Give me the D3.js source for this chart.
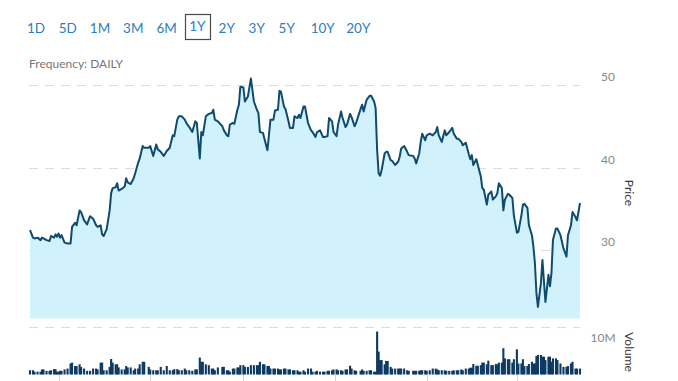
<!DOCTYPE html>
<html><head><meta charset="utf-8">
<script src="https://cdn.jsdelivr.net/npm/d3@7"></script>
<style>html,body{margin:0;padding:0;background:#fff;}svg{display:block;font-family:Lato,"Open Sans",sans-serif;}</style>
</head><body><svg id="c" width="678" height="381"></svg>
<script>
const rangeButtons = ["1D","5D","1M","3M","6M","1Y","2Y","3Y","5Y","10Y","20Y"];
const activeRange = "1Y";
const frequencyLabel = "Frequency: DAILY";
const startDate = "2019-04-12";
const endDayOffset = 366;
// calendar-day offsets from startDate
const dayOffsets = [
0,2,3,5,7,8,9,11,13,14, 16,17,18,19,20,21,23,25,27,28,
30,31,33,34,36,38,40,42,44,45, 47,48,49,51,53,54,55,57,58,59,
61,63,64,65,67,69,70,72,73,75, 76,79,80,82,84,85,87,89,91,93,
95,96,98,99,101,103,104,106,108,110, 111,113,114,115,117,119,121,122,123,125,
128,129,131,132,133,135,136,138,139,140, 142,143,145,147,149,151,152,153,155,156,
158,159,160,162,163,165,166,167,169,170, 172,173,175,176,178,179,180,182,183,185,
187,188,190,191,193,195,196,198,199,201, 202,204,205,207,208,210,211,213,214,216,
217,220,221,222,224,226,227,229,230,231, 232,233,234,236,237,238,240,241,243,245,
246,247,249,251,252,255,256,257,259,260, 261,263,264,266,268,270,271,272,274,276,
277,279,281,282,284,285,287,288,290,292, 293,294,295,297,298,300,301,302,304,305,
307,308,310,311,312,314,315,316,318,319, 321,322,324,325,327,328,329,331,332,334,
335,336,337,338,340,341,342,343,345,346, 347,348,350,351,353,355,357,358,360,361,
363,364,366];
const prices = [
32.4,31.5,31.4,31.5,31.2,31.5,31.4,31.2,31.1,31.7, 31.5,31.9,31.6,32.0,31.5,31.8,30.9,30.8,30.8,32.8,
33.3,33.0,34.8,34.6,33.6,33.1,34.1,33.8,33.0,32.8, 33.0,31.9,31.7,32.5,34.8,36.9,37.5,37.6,38.1,37.2,
37.4,37.7,38.7,38.2,38.0,38.7,39.3,40.6,41.1,42.6, 42.4,42.4,42.6,41.4,42.8,42.2,41.9,41.4,42.0,42.4,
43.9,43.8,45.8,46.2,46.2,45.8,45.4,44.9,44.3,45.6, 45.4,41.1,44.3,43.9,46.2,46.5,46.6,47.0,45.8,45.6,
45.0,44.5,43.9,43.8,45.2,45.4,45.3,47.0,47.6,49.8, 49.7,48.0,48.6,50.8,48.0,47.0,46.6,44.3,44.2,43.5,
42.1,43.9,45.8,45.8,46.9,47.0,49.3,49.2,47.4,47.1, 45.6,44.8,44.8,46.2,46.0,46.4,46.0,47.4,47.4,45.4,
44.5,44.3,43.7,44.3,44.5,43.7,43.7,43.8,46.0,45.6, 44.3,43.8,45.2,46.8,46.0,44.9,45.2,46.5,46.1,45.0,
45.4,47.1,47.6,46.8,48.2,48.7,48.7,48.0,47.2,42.1, 39.3,39.0,39.7,41.7,41.9,41.9,40.9,40.8,40.3,40.7,
41.3,42.3,42.6,41.9,41.5,41.4,41.1,40.5,41.7,43.1, 44.1,43.3,43.9,44.1,43.9,44.3,44.9,43.9,43.1,44.5,
43.9,44.3,44.8,44.1,43.5,43.5,43.1,42.7,43.0,41.6, 41.0,41.5,40.3,41.0,40.3,38.9,37.5,37.3,35.5,36.7,
37.1,36.1,36.5,36.9,38.1,37.5,34.8,36.1,36.8,36.7, 36.3,34.2,32.1,32.2,34.2,35.5,35.6,35.1,33.0,31.8,
30.4,28.4,24.8,23.1,26.0,28.8,26.2,23.7,27.0,25.6, 27.2,31.2,32.6,32.6,31.8,30.2,29.2,31.8,33.0,34.6,
34.0,33.6,35.7];
// volume, millions of shares
const volumes = [
1.5,1.5,1.0,1.0,1.0,1.8,1.8,1.3,1.3,1.5, 1.9,1.9,1.0,1.0,1.3,1.3,1.8,2.1,3.9,4.2,
3.0,3.0,3.6,2.7,2.1,1.3,1.3,2.1,2.1,1.8, 4.2,4.2,1.5,1.5,2.7,5.5,4.2,3.6,3.6,2.5,
1.8,1.8,3.0,2.5,2.5,1.5,2.1,2.1,3.6,4.5, 4.5,2.7,1.8,1.5,1.5,1.5,2.7,1.5,3.0,1.5,
1.5,1.9,1.9,1.5,1.5,2.1,1.5,1.5,1.3,1.8, 1.8,6.0,4.5,4.5,3.6,3.3,2.1,2.1,1.5,2.5,
2.7,2.7,1.5,1.5,1.0,2.1,2.1,2.5,2.5,3.3, 3.3,2.7,2.7,3.3,3.3,3.3,3.3,4.5,3.6,3.6,
3.0,3.0,2.1,2.1,2.1,2.1,1.8,1.8,2.1,2.1, 1.8,1.8,1.5,1.5,1.5,1.0,1.0,1.5,1.0,2.1,
2.1,1.0,1.0,1.3,1.0,1.0,1.0,1.3,1.3,1.5, 1.8,1.8,1.5,1.5,1.3,1.8,1.8,3.1,2.1,1.5,
1.3,1.3,1.8,1.3,1.3,1.5,1.5,1.0,1.0,15.2, 8.1,5.1,5.1,3.6,4.8,4.8,2.7,2.1,2.1,2.1,
2.1,2.1,2.1,1.5,1.3,1.3,1.3,1.3,1.3,1.5, 1.5,1.5,1.3,1.5,2.1,2.1,1.8,1.5,1.5,1.5,
1.3,1.3,1.3,1.5,1.5,1.5,1.8,1.5,2.1,2.1, 2.4,2.4,3.7,3.1,3.1,3.3,4.2,4.2,3.6,4.9,
3.3,3.3,3.7,3.6,4.2,4.2,9.3,5.7,5.4,5.4, 4.2,5.4,8.9,3.9,3.9,5.4,3.0,3.0,3.7,4.5,
3.9,3.9,6.5,6.9,6.9,6.3,6.3,5.1,6.3,6.3, 4.5,5.7,5.7,5.1,3.9,2.7,2.7,3.0,3.9,4.5,
2.1,2.1,2.1];
const priceTicks = [30, 40, 50];
const priceMin = 21.7, priceMax = 50;
const volumeTicks = [10];
const volumeMax = 16.8;

const svg = d3.select("#c");
const t0 = d3.utcParse("%Y-%m-%d")(startDate);
const dates = dayOffsets.map(d => d3.utcDay.offset(t0, d));
const data = dates.map((d, i) => ({date: d, price: prices[i], vol: volumes[i]}));

const x = d3.scaleUtc().domain([t0, d3.utcDay.offset(t0, endDayOffset)]).range([30, 580]);
const y = d3.scaleLinear().domain([priceMin, priceMax]).range([318.5, 85]);
const yv = d3.scaleLinear().domain([0, volumeMax]).range([374.5, 327]);

// range buttons
const btnX = [36, 67.7, 100, 133.3, 166.7, 197.3, 226.7, 256.7, 286.7, 322.7, 358.3];
rangeButtons.forEach((b, i) => {
  const active = b === activeRange;
  if (active) svg.append("rect").attr("x", 185.5).attr("y", 14.5).attr("width", 25).attr("height", 25)
    .attr("fill", "none").attr("stroke", "#4a4a4a").attr("stroke-width", 1.2);
  svg.append("text").attr("x", btnX[i]).attr("y", active ? 30.7 : 33.3)
    .attr("text-anchor", "middle").attr("font-size", 13.5).attr("fill", "#2a80c6").text(b);
});
svg.append("text").attr("x", 29).attr("y", 67.5).attr("font-size", 12).attr("fill", "#777").text(frequencyLabel);

// price gridlines
const grid = svg.append("g");
priceTicks.forEach(t => {
  grid.append("line").attr("x1", 29).attr("x2", 580).attr("y1", Math.round(y(t)) + 0.5).attr("y2", Math.round(y(t)) + 0.5)
    .attr("stroke", "#dcdcdc").attr("stroke-dasharray", "9,7");
  svg.append("text").attr("x", 608).attr("y", y(t) - 8).attr("dy", "0.35em").attr("text-anchor", "middle")
    .attr("font-size", 12).attr("fill", "#888").text(t);
});
grid.append("line").attr("x1", 29).attr("x2", 580).attr("y1", Math.round(yv(volumeMax)) + 0.5).attr("y2", Math.round(yv(volumeMax)) + 0.5)
  .attr("stroke", "#dcdcdc").attr("stroke-dasharray", "9,7");
volumeTicks.forEach(t => {
  svg.append("text").attr("x", 603).attr("y", yv(t) - 8).attr("dy", "0.35em").attr("text-anchor", "middle")
    .attr("font-size", 12).attr("fill", "#888").text(t + "M");
});

// area + line
const area = d3.area().x(d => x(d.date)).y0(y(priceMin)).y1(d => y(d.price)).curve(d3.curveLinear);
const line = d3.line().x(d => x(d.date)).y(d => y(d.price)).curve(d3.curveLinear);
svg.append("path").datum(data).attr("d", area).attr("fill", "#d1f1fc");
svg.append("path").datum(data).attr("d", line).attr("fill", "none").attr("stroke", "#0d4b6f")
  .attr("stroke-width", 2).attr("stroke-linejoin", "round");

// volume bars
svg.append("g").selectAll("rect").data(data).join("rect")
  .attr("x", d => x(d.date) - 1.05).attr("width", 2.1)
  .attr("y", d => yv(d.vol)).attr("height", d => yv(0) - yv(d.vol))
  .attr("fill", "#0e3960");

// x ticks
x.ticks(d3.utcMonth.every(2)).forEach(t => {
  svg.append("line").attr("x1", Math.round(x(t)) + 0.5).attr("x2", Math.round(x(t)) + 0.5)
    .attr("y1", 375).attr("y2", 381).attr("stroke", "#c8d5ec");
});

// axis titles
svg.append("text").attr("transform", "translate(625,193) rotate(90)").attr("text-anchor", "middle")
  .attr("font-size", 12).attr("fill", "#333").text("Price");
svg.append("text").attr("transform", "translate(625,352) rotate(90)").attr("text-anchor", "middle")
  .attr("font-size", 12).attr("fill", "#333").text("Volume");
</script></body></html>
